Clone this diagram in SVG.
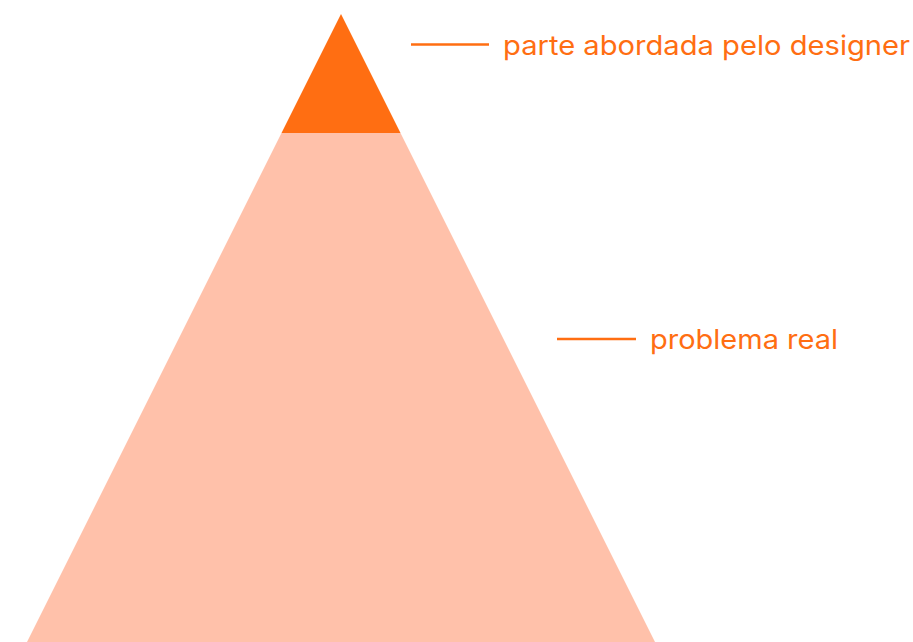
<svg xmlns="http://www.w3.org/2000/svg" width="913" height="642" viewBox="0 0 913 642">
<style>
.lbl{font-family:Inter,"Open Sans","Liberation Sans",sans-serif;font-size:27px;fill:#FF6E12}
.lead{stroke:#FF6E12;stroke-width:2.5;fill:none}
</style>
<rect width="913" height="642" fill="#ffffff"/>
<g id="base">
<polygon points="281.5,133 400.5,133 655,642 27,642" fill="#FFC1AA"/>
</g>
<g id="tip">
<polygon points="341,14 400.5,133 281.5,133" fill="#FF6E12"/>
</g>
<g id="connectors">
<line class="lead" x1="411" y1="44.5" x2="489" y2="44.5"/>
<line class="lead" x1="557" y1="339" x2="636" y2="339"/>
</g>
<g id="label-top">
<text class="lbl" x="503" y="55" textLength="407" lengthAdjust="spacingAndGlyphs">parte abordada pelo designer</text>
</g>
<g id="label-real">
<text class="lbl" x="650" y="349" textLength="188" lengthAdjust="spacingAndGlyphs">problema real</text>
</g>
</svg>
